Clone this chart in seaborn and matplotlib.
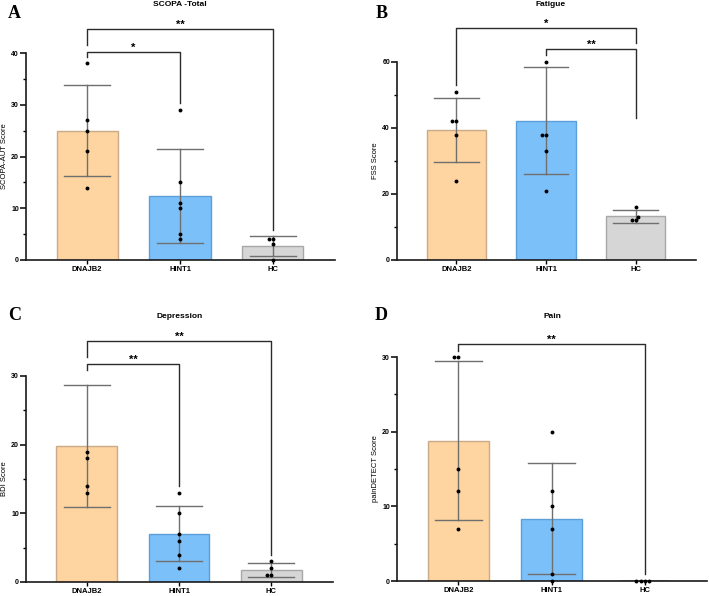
import seaborn as sns
import numpy as np
import pandas as pd
import matplotlib.pyplot as plt
from matplotlib.patches import Rectangle
from matplotlib.ticker import MultipleLocator

groups = ["DNAJB2", "HINT1", "HC"]

# individual scores per group
scopa_dnajb2 = [38, 27, 25, 21, 14]
scopa_hint1 = [29, 15, 11, 10, 5, 4]
scopa_hc = [4, 4, 3, 0]

fss_dnajb2 = [51, 42, 42, 38, 24]
fss_hint1 = [63, 60, 38, 38, 33, 21]
fss_hc = [16, 13, 12, 12]

bdi_dnajb2 = [35, 19, 18, 14, 13]
bdi_hint1 = [13, 10, 7, 6, 4, 2]
bdi_hc = [3, 2, 1, 1]

pain_dnajb2 = [30, 30, 15, 12, 7]
pain_hint1 = [20, 12, 10, 7, 1, 0]
pain_hc = [0, 0, 0, 0]

# significance brackets: (group a, group b, height, leg end a, leg end b, label)
brk_scopa = [(0, 2, 44.6, 41.5, 5.8, "**"), (0, 1, 40.2, 39.2, 30.3, "*")]
brk_fss = [(0, 2, 70.3, 53, 65.7, "*"), (1, 2, 63.9, 62, 43, "**")]
brk_bdi = [(0, 2, 35.1, 32.7, 3.9, "**"), (0, 1, 31.8, 30.9, 14, "**")]
brk_pain = [(0, 2, 31.8, 30.8, 0.9, "**")]

fill = {"DNAJB2": "#fed4a0", "HINT1": "#7cc0fa", "HC": "#d6d6d6"}
edge = {"DNAJB2": "#c9ab88", "HINT1": "#5d9fd8", "HC": "#a8a8a8"}

plt.rcParams["font.family"] = ["Liberation Sans", "DejaVu Sans"]
plt.rcParams["font.weight"] = "bold"

W, H = 709, 596
fig = plt.figure(figsize=(W / 100, H / 100), dpi=100)


def make_df(a, b, c):
    return pd.DataFrame({
        "group": [groups[0]] * len(a) + [groups[1]] * len(b) + [groups[2]] * len(c),
        "value": list(a) + list(b) + list(c),
    })


def panel(rect, df, ymax, major, ylabel, brackets):
    l, r, t, b = rect
    ax = fig.add_axes([l / W, (H - b) / H, (r - l) / W, (b - t) / H])
    sns.barplot(data=df, x="group", y="value", hue="group", order=groups,
                palette=fill, saturation=1, errorbar="sd", capsize=0.5, width=0.66,
                err_kws={"color": "#6f6f6f", "linewidth": 1.0},
                legend=False, ax=ax)
    for p, g in zip(ax.patches, groups):
        p.set_edgecolor(edge[g])
        p.set_linewidth(1.0)
    n_before = len(ax.collections)
    sns.swarmplot(data=df, x="group", y="value", order=groups, color="black",
                  size=2.8, ax=ax, zorder=4)
    # let dots sitting on zero show fully, hide the ones above the axis top
    clip = Rectangle((-0.05, -0.05), 1.1, 1.07, transform=ax.transAxes,
                     fill=False, visible=False)
    ax.add_patch(clip)
    for c in ax.collections[n_before:]:
        c.set_clip_path(clip)
    ax.set_xlim(-0.66, 2.67)
    ax.set_ylim(0, ymax)
    ax.yaxis.set_major_locator(MultipleLocator(major))
    ax.yaxis.set_minor_locator(MultipleLocator(major / 2))
    for s in ["top", "right"]:
        ax.spines[s].set_visible(False)
    for s in ["left", "bottom"]:
        ax.spines[s].set_linewidth(1.2)
        ax.spines[s].set_color("#1a1a1a")
    ax.tick_params(axis="y", which="major", length=4, width=1.1, labelsize=5, pad=1)
    ax.tick_params(axis="y", which="minor", length=2.5, width=1.0)
    ax.tick_params(axis="x", length=3, width=1.0, labelsize=5.5, pad=1.5)
    ax.set_xlabel("")
    ax.set_ylabel(ylabel, fontsize=5.5, labelpad=2)
    for ga, gb, y, ya, yb, txt in brackets:
        ax.plot([ga, ga, gb, gb], [ya, y, y, yb], color="#2b2b2b", lw=1.0,
                clip_on=False)
        ax.text((ga + gb) / 2, y - ymax * 0.004, txt, ha="center", va="bottom",
                fontsize=8, clip_on=False)
    return ax


panel((26, 335, 53, 260), make_df(scopa_dnajb2, scopa_hint1, scopa_hc), 40, 10,
      "SCOPA-AUT Score", brk_scopa)
panel((397, 696, 62, 260), make_df(fss_dnajb2, fss_hint1, fss_hc), 60, 20,
      "FSS Score", brk_fss)
panel((26, 333, 376, 582), make_df(bdi_dnajb2, bdi_hint1, bdi_hc), 30, 10,
      "BDI Score", brk_bdi)
panel((397, 707, 357, 581), make_df(pain_dnajb2, pain_hint1, pain_hc), 30, 10,
      "painDETECT Score", brk_pain)

titles = [("SCOPA -Total", 180, 5), ("Fatigue", 551, 5),
          ("Depression", 180, 316), ("Pain", 552, 316)]
for txt, x, y in titles:
    fig.text(x / W, 1 - y / H, txt, ha="center", va="center", fontsize=6)

letters = [("A", 14, 14), ("B", 382, 14), ("C", 15, 315), ("D", 381, 315)]
for txt, x, y in letters:
    fig.text(x / W, 1 - y / H, txt, ha="center", va="center", fontsize=13,
             family="Liberation Serif", weight="bold")

plt.savefig("out.png", dpi=100)
